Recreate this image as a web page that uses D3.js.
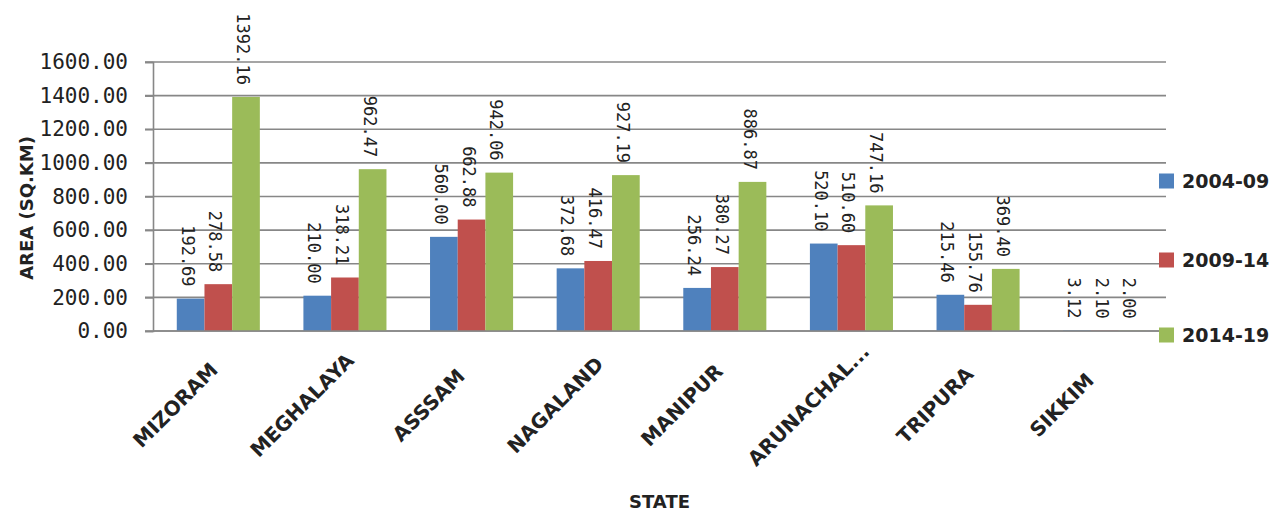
<!DOCTYPE html>
<html>
<head>
<meta charset="utf-8">
<script src="https://cdn.jsdelivr.net/npm/d3@7"></script>
<style>
  html, body { margin: 0; padding: 0; background: #fff; }
  svg { display: block; }
</style>
</head>
<body>
<svg id="chart" width="1275" height="514"></svg>
<script>
// Forest cover area by state, three assessment periods
const states = ["MIZORAM", "MEGHALAYA", "ASSSAM", "NAGALAND", "MANIPUR", "ARUNACHAL...", "TRIPURA", "SIKKIM"];
const periods = ["2004-09", "2009-14", "2014-19"];
const values2004 = [192.69, 210.00, 560.00, 372.68, 256.24, 520.10, 215.46, 3.12];
const values2009 = [278.58, 318.21, 662.88, 416.47, 380.27, 510.60, 155.76, 2.10];
const values2014 = [1392.16, 962.47, 942.06, 927.19, 886.87, 747.16, 369.40, 2.00];
const yTicks = [0, 200, 400, 600, 800, 1000, 1200, 1400, 1600];
const colors = ["#4F81BD", "#C0504D", "#9BBB59"];

const series = [values2004, values2009, values2014];

const svg = d3.select("#chart");
const plot = { left: 153, right: 1166, top: 62, bottom: 331 };
const gridColor = "#878787";

const x = d3.scaleBand().domain(states).range([155, 1168]).paddingInner(0.344).paddingOuter(0.172);
const xs = d3.scaleBand().domain(periods).range([0, x.bandwidth()]);
const y = d3.scaleLinear().domain([0, 1600]).range([plot.bottom, plot.top]);

// horizontal gridlines
svg.append("g")
  .selectAll("line")
  .data(yTicks)
  .join("line")
  .attr("x1", plot.left - 8).attr("x2", plot.right)
  .attr("y1", d => y(d)).attr("y2", d => y(d))
  .attr("stroke", gridColor).attr("stroke-width", 1.6);

// y axis
const yAxis = svg.append("g")
  .attr("transform", `translate(${plot.left},0)`)
  .call(d3.axisLeft(y).tickValues(yTicks).tickSize(8).tickPadding(17).tickFormat(d3.format(".2f")));
yAxis.select(".domain").attr("stroke", gridColor).attr("stroke-width", 1.6);
yAxis.selectAll(".tick line").attr("stroke", gridColor).attr("stroke-width", 1.6);
yAxis.selectAll(".tick text")
  .attr("font-family", "'DejaVu Sans Mono', monospace")
  .attr("font-size", 21)
  .attr("fill", "#222");

// bars
const groups = svg.append("g").selectAll("g")
  .data(states)
  .join("g")
  .attr("transform", d => `translate(${x(d)},0)`);

const cells = (d, i) => periods.map((p, k) => ({ p, k, v: series[k][i] }));

groups.selectAll("rect")
  .data(cells)
  .join("rect")
  .attr("x", d => xs(d.p))
  .attr("width", xs.bandwidth())
  .attr("y", d => y(d.v))
  .attr("height", d => y(0) - y(d.v))
  .attr("fill", d => colors[d.k]);

// value labels, rotated to read downward
groups.selectAll("text")
  .data(cells)
  .join("text")
  .attr("transform", d => `translate(${xs(d.p) + xs.bandwidth() / 2 - 9},${y(d.v) - 12}) rotate(90)`)
  .attr("text-anchor", "end")
  .attr("font-family", "'DejaVu Sans Mono', monospace")
  .attr("font-size", 17)
  .attr("fill", "#222")
  .text(d => d.v.toFixed(2));

// x axis baseline
svg.append("line")
  .attr("x1", plot.left).attr("x2", plot.right)
  .attr("y1", y(0)).attr("y2", y(0))
  .attr("stroke", gridColor).attr("stroke-width", 1.6);

// category labels, centred along a 45° slant below each group
svg.append("g").selectAll("text")
  .data(states)
  .join("text")
  .attr("transform", d => `translate(${x(d) + x.bandwidth() / 2 - 38},${plot.bottom + 79}) rotate(-45)`)
  .attr("text-anchor", "middle")
  .attr("font-family", "'DejaVu Sans', sans-serif")
  .attr("font-weight", "bold")
  .attr("font-size", 20)
  .attr("fill", "#222")
  .text(d => d);

// axis titles
svg.append("text")
  .attr("transform", "translate(33,208) rotate(-90)")
  .attr("text-anchor", "middle")
  .attr("font-family", "'DejaVu Sans', sans-serif")
  .attr("font-weight", "bold")
  .attr("font-size", 18)
  .attr("fill", "#222")
  .text("AREA (SQ.KM)");

svg.append("text")
  .attr("x", (plot.left + plot.right) / 2).attr("y", 508)
  .attr("text-anchor", "middle")
  .attr("font-family", "'DejaVu Sans', sans-serif")
  .attr("font-weight", "bold")
  .attr("font-size", 18)
  .attr("fill", "#222")
  .text("STATE");

// legend
const legendY = [181, 260, 335];
const legend = svg.append("g").selectAll("g")
  .data(periods)
  .join("g")
  .attr("transform", (d, i) => `translate(1159,${legendY[i]})`);
legend.append("rect")
  .attr("x", 0).attr("y", -7.5).attr("width", 15).attr("height", 15)
  .attr("fill", (d, i) => colors[i]);
legend.append("text")
  .attr("x", 23).attr("y", 7)
  .attr("font-family", "'DejaVu Sans', sans-serif")
  .attr("font-weight", "bold")
  .attr("font-size", 19)
  .attr("fill", "#222")
  .text(d => d);
</script>
</body>
</html>
